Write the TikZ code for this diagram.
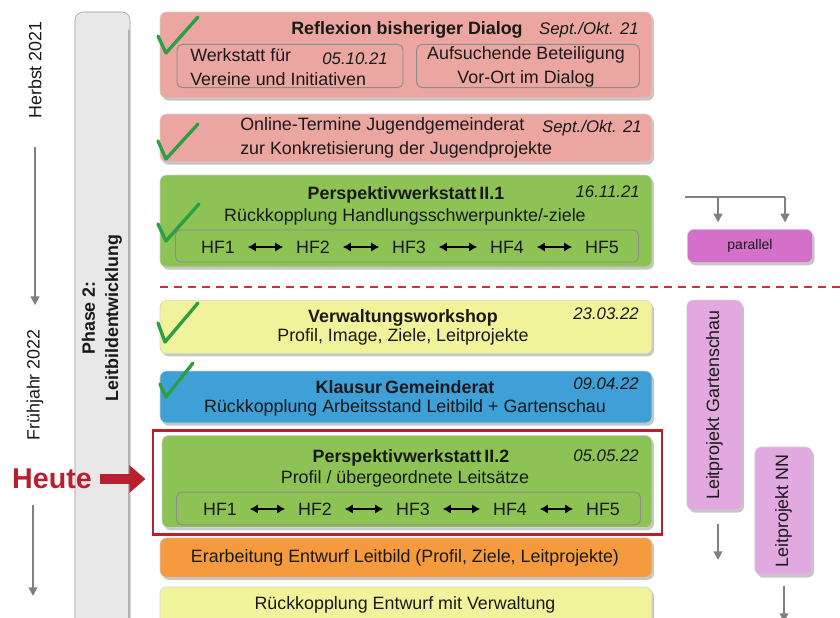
\documentclass[tikz,border=0pt]{standalone}
\usepackage{fontspec}
\setmainfont{Liberation Sans}
\usepackage{tikz}
\usetikzlibrary{positioning}
\usetikzlibrary{shadows}
\usetikzlibrary{arrows.meta}

\definecolor{rosa}{HTML}{ECA6A1}
\definecolor{gruen}{HTML}{8DC355}
\definecolor{gelb}{HTML}{F1F39A}
\definecolor{blau}{HTML}{3FA0D8}
\definecolor{orange}{HTML}{F59B3E}
\definecolor{lila}{HTML}{E2A8E0}
\definecolor{magenta}{HTML}{D46FCA}
\definecolor{balkengrau}{HTML}{E8E8E8}
\definecolor{rot}{HTML}{B8202F}
\definecolor{haken}{HTML}{2E9E45}

\begin{document}
\begin{tikzpicture}[x=0.75pt,y=-0.75pt,
  every node/.style={font=\fontsize{13.4}{17.5}\selectfont, inner sep=0pt, text=black!90},
  stepbox/.style={draw=black!18, rounded corners=5pt,
    drop shadow={shadow xshift=1.5pt, shadow yshift=-2pt, opacity=0.45}},
  innerbox/.style={draw=black!45, line width=0.7pt, rounded corners=4pt},
  titel/.style={font=\fontsize{13.4}{17.5}\selectfont\bfseries},
  datum/.style={font=\fontsize{12.6}{17}\selectfont\itshape, anchor=east},
  hakenstil/.style={draw=haken, line width=2.5pt, line cap=round, line join=round},
  grauline/.style={draw=black!50, line width=1.3pt},
  grauarrow/.style={grauline, -{Triangle[width=6.5pt,length=6.5pt]}},
  hfarrow/.style={line width=1.3pt, {Latex[length=6pt,width=7pt]}-{Latex[length=6pt,width=7pt]}}]
\clip (0,0) rectangle (840,618);

% Zeitachse links
\node[rotate=90] (herbst) at (35,70) {Herbst 2021};
\node[rotate=90] (fruehjahr) at (35,385) {Frühjahr 2022};
\draw[grauarrow, shorten <=21pt, shorten >=18pt] (herbst.west) -- (fruehjahr.east);
\coordinate (zeit1) at (33,505);
\coordinate (zeit2) at (33,596);
\draw[grauarrow] (zeit1) -- (zeit2);

% Phase
\draw[draw=black!40, fill=balkengrau, rounded corners=6pt] (75,12) rectangle (130,640);
\draw[black!30, line width=2pt] (129,30) -- (129,640);
\node[rotate=90, align=center, font=\fontsize{13.4}{17.5}\selectfont\bfseries] (phase) at (102,318)
  {Phase 2:\\Leitbildentwicklung};

% Kasten 1
\node[stepbox, fill=rosa, minimum width=369pt, minimum height=64.5pt] (reflexion) at (406,55) {};
\node[titel] (reflexiontitel) at (407,30) {Reflexion bisheriger Dialog};
\node[datum] (reflexiondatum) at (639,30) {Sept./Okt. 21};
\node[innerbox, minimum width=169.5pt, minimum height=32.5pt] (werkstatt) at (290,66) {};
\node[anchor=west, align=left] (werkstatttext) at (190,67) {Werkstatt für\\Vereine und Initiativen};
\node[datum] (werkstattdatum) at (388,59) {05.10.21};
\node[innerbox, minimum width=167pt, minimum height=32.5pt] (vorort) at (528,66) {};
\node[align=center] (vororttext) at (526,67) {Aufsuchende Beteiligung\\Vor-Ort im Dialog};

% Kasten 2
\node[stepbox, fill=rosa, minimum width=369pt, minimum height=36pt] (online) at (406,138) {};
\node[anchor=west, align=left] (onlinetext) at (240,138)
  {Online-Termine Jugendgemeinderat\\zur Konkretisierung der Jugendprojekte};
\node[datum] (onlinedatum) at (642,128) {Sept./Okt. 21};

% Kasten 3
\node[stepbox, fill=gruen, minimum width=369pt, minimum height=69pt] (pw1) at (406,221) {};
\node[titel] (pw1titel) at (406,195) {Perspektivwerkstatt\,II.1};
\node[datum] (pw1datum) at (640,192) {16.11.21};
\node (pw1text) at (405,217) {Rückkopplung Handlungsschwerpunkte/-ziele};
\node[innerbox, minimum width=347.5pt, minimum height=24pt] (pw1hf) at (407,246) {};
\foreach \n/\x in {1/218,2/313,3/409,4/507,5/602}
  \node (pw1hf\n) at (\x,247) {HF\n};
\foreach \a/\b in {1/2,2/3,3/4,4/5}
  \draw[hfarrow, shorten <=9.5pt, shorten >=9.5pt] (pw1hf\a) -- (pw1hf\b);

% parallel
\draw[rot!90, line width=1.5pt, dash pattern=on 6pt off 4.5pt] (160,287) -- (840,287);
\node[stepbox, fill=magenta, minimum width=94pt, minimum height=25pt,
  font=\fontsize{10.5}{12}\selectfont] (parallel) at (750,246) {parallel};
\coordinate (gabel1) at (685,197);
\coordinate (gabel2) at (785,197);
\draw[grauline] (gabel1) -- (gabel2);
\draw[grauarrow, shorten >=5pt] (718,197) -- (718,197 |- parallel.north);
\draw[grauarrow, shorten >=5pt] (gabel2) -- (gabel2 |- parallel.north);

% Kasten 4
\node[stepbox, fill=gelb, minimum width=369pt, minimum height=40pt] (verwaltung) at (406,327) {};
\node[titel] (verwaltungtitel) at (403,318) {Verwaltungsworkshop};
\node[datum] (verwaltungdatum) at (639,314) {23.03.22};
\node (verwaltungtext) at (403,337) {Profil, Image, Ziele, Leitprojekte};

% Kasten 5
\node[stepbox, fill=blau, minimum width=369pt, minimum height=39pt] (klausur) at (406,397) {};
\node[titel] (klausurtitel) at (405,387) {Klausur\,Gemeinderat};
\node[datum] (klausurdatum) at (639,384) {09.04.22};
\node (klausurtext) at (405,408) {Rückkopplung Arbeitsstand Leitbild + Gartenschau};

% Kasten 6 (heute)
\node[draw=rot, line width=1.6pt, minimum width=381.5pt, minimum height=78pt] (heuterahmen) at (407.5,482.5) {};
\node[stepbox, fill=gruen, minimum width=367.5pt, minimum height=69pt] (pw2) at (407,481.5) {};
\node[titel] (pw2titel) at (411,458) {Perspektivwerkstatt\,II.2};
\node[datum] (pw2datum) at (639,456) {05.05.22};
\node (pw2text) at (405,479) {Profil / übergeordnete Leitsätze};
\node[innerbox, minimum width=348pt, minimum height=24.5pt] (pw2hf) at (408.5,508.5) {};
\foreach \n/\x in {1/220,2/315,3/413,4/510,5/603}
  \node (pw2hf\n) at (\x,509) {HF\n};
\foreach \a/\b in {1/2,2/3,3/4,4/5}
  \draw[hfarrow, shorten <=9.5pt, shorten >=9.5pt] (pw2hf\a) -- (pw2hf\b);

\node[font=\fontsize{21.5}{24}\selectfont\bfseries, text=rot] (heute) at (52,479) {Heute};
\draw[rot, line width=8pt, -{Triangle[width=20pt,length=12pt]}, shorten <=6pt, shorten >=5pt]
  (heute.east) -- (heute.east -| heuterahmen.west);

% Kasten 7, 8
\node[stepbox, fill=orange, minimum width=369pt, minimum height=29.5pt] (entwurf) at (406,557.5) {};
\node (entwurftext) at (405,558) {Erarbeitung Entwurf Leitbild (Profil, Ziele, Leitprojekte)};
\node[stepbox, fill=gelb, minimum width=369pt, minimum height=36pt] (rueck) at (406,611) {};
\node (ruecktext) at (405,605) {Rückkopplung Entwurf mit Verwaltung};

% Leitprojekte
\node[stepbox, fill=lila, minimum width=41.5pt, minimum height=157.5pt] (gartenschau) at (714.5,405)
  {\rotatebox{90}{Leitprojekt Gartenschau}};
\node[stepbox, fill=lila, minimum width=43pt, minimum height=96pt] (nn) at (783.5,511)
  {\rotatebox{90}{Leitprojekt NN}};
\coordinate (gartenende) at (718,560);
\coordinate (nnende) at (784,622);
\draw[grauarrow, shorten <=10pt] (gartenschau.south -| gartenende) -- (gartenende);
\draw[grauarrow, shorten <=8pt] (nn.south -| nnende) -- (nnende);

% Haken
\draw[hakenstil] (158,36) -- (166,53) -- (198,17);
\draw[hakenstil] (158,141) -- (166,159) -- (198,124);
\draw[hakenstil] (158,224) -- (166,241) -- (199,204);
\draw[hakenstil] (158,323) -- (165,342) -- (198,303);
\draw[hakenstil] (160,384) -- (166,397) -- (193,363);
\end{tikzpicture}
\end{document}
